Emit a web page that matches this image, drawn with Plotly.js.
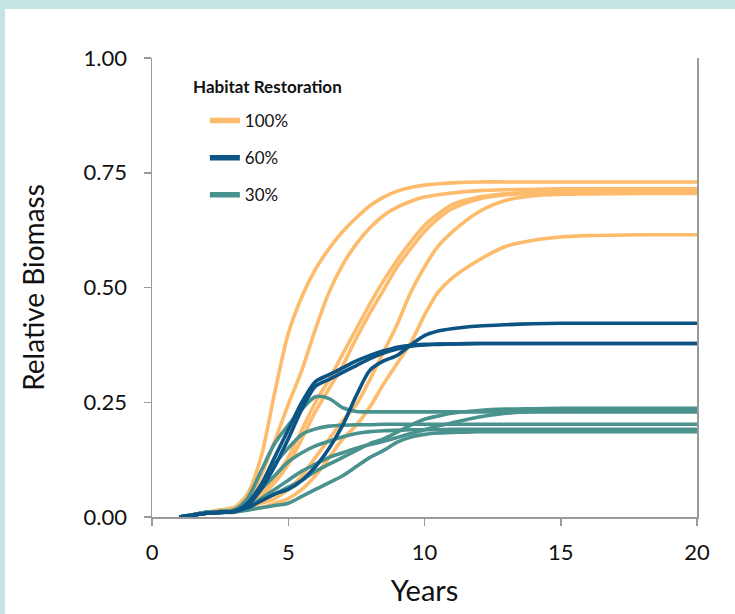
<!DOCTYPE html>
<html>
<head>
<meta charset="utf-8">
<script src="https://cdn.plot.ly/plotly-3.0.1.min.js"></script>
<style>
html,body{margin:0;padding:0;width:735px;height:614px;background:#c6e4e4;overflow:hidden;}
#chart{position:absolute;left:5px;top:9px;width:730px;height:605px;background:#fff;}
</style>
</head>
<body>
<div id="chart"></div>
<script>
// Years sampled for every curve
const years = [1,1.5,2,2.5,3,3.5,4,4.5,5,5.5,6,6.5,7,7.5,8,8.5,9,9.5,10,10.5,11,12,13,14,15,16,18,20];

// 100% habitat restoration
const r100_a = [0,0.005,0.01,0.015,0.02,0.05,0.13,0.27,0.40,0.48,0.54,0.585,0.622,0.652,0.678,0.697,0.71,0.718,0.723,0.726,0.728,0.73,0.73,0.73,0.73,0.73,0.73,0.73];
const r100_b = [0,0.005,0.01,0.015,0.02,0.04,0.09,0.165,0.245,0.32,0.41,0.49,0.55,0.595,0.63,0.657,0.675,0.688,0.697,0.702,0.706,0.711,0.713,0.714,0.715,0.715,0.715,0.715];
const r100_c = [0,0.005,0.01,0.015,0.02,0.03,0.05,0.085,0.13,0.19,0.25,0.30,0.355,0.41,0.465,0.515,0.56,0.60,0.635,0.66,0.68,0.697,0.704,0.707,0.709,0.71,0.71,0.71];
const r100_d = [0,0.005,0.01,0.012,0.018,0.025,0.045,0.075,0.115,0.17,0.23,0.28,0.33,0.39,0.445,0.495,0.545,0.585,0.622,0.65,0.671,0.693,0.702,0.705,0.706,0.707,0.707,0.707];
const r100_e = [0,0.005,0.01,0.012,0.015,0.02,0.03,0.04,0.06,0.09,0.13,0.17,0.21,0.245,0.30,0.36,0.42,0.49,0.545,0.59,0.62,0.665,0.69,0.70,0.703,0.704,0.705,0.705];
const r100_f = [0,0.005,0.01,0.012,0.015,0.018,0.02,0.03,0.04,0.06,0.09,0.13,0.17,0.20,0.24,0.29,0.335,0.38,0.44,0.49,0.52,0.56,0.59,0.603,0.61,0.613,0.615,0.615];

// 60% habitat restoration
const r60_a = [0,0.004,0.008,0.01,0.012,0.03,0.07,0.13,0.19,0.25,0.295,0.31,0.325,0.34,0.352,0.362,0.37,0.374,0.376,0.377,0.377,0.378,0.378,0.378,0.378,0.378,0.378,0.378];
const r60_b = [0,0.004,0.008,0.01,0.012,0.025,0.06,0.11,0.17,0.235,0.285,0.30,0.315,0.33,0.345,0.357,0.366,0.372,0.375,0.376,0.377,0.378,0.378,0.378,0.378,0.378,0.378,0.378];
const r60_c = [0,0.004,0.008,0.01,0.012,0.02,0.035,0.05,0.06,0.08,0.11,0.15,0.20,0.265,0.32,0.34,0.352,0.375,0.395,0.405,0.41,0.416,0.419,0.421,0.422,0.422,0.422,0.422];

// 30% habitat restoration
const r30_a = [0,0.005,0.01,0.012,0.015,0.04,0.10,0.16,0.20,0.235,0.262,0.258,0.238,0.23,0.229,0.229,0.229,0.229,0.229,0.229,0.229,0.229,0.229,0.229,0.229,0.229,0.229,0.229];
const r30_b = [0,0.005,0.01,0.012,0.015,0.03,0.07,0.115,0.15,0.18,0.192,0.198,0.20,0.201,0.201,0.202,0.202,0.202,0.202,0.202,0.202,0.202,0.202,0.202,0.202,0.202,0.202,0.202];
const r30_c = [0,0.005,0.01,0.012,0.015,0.03,0.06,0.09,0.12,0.14,0.155,0.165,0.175,0.182,0.186,0.188,0.189,0.19,0.19,0.19,0.191,0.191,0.191,0.191,0.191,0.191,0.191,0.191];
const r30_d = [0,0.005,0.01,0.01,0.012,0.02,0.035,0.05,0.065,0.08,0.10,0.115,0.13,0.145,0.16,0.17,0.185,0.20,0.213,0.22,0.226,0.232,0.235,0.236,0.237,0.237,0.237,0.237];
const r30_e = [0,0.005,0.008,0.01,0.012,0.02,0.04,0.06,0.08,0.10,0.115,0.13,0.14,0.15,0.158,0.165,0.173,0.182,0.19,0.198,0.205,0.218,0.226,0.23,0.232,0.233,0.233,0.233];
const r30_f = [0,0.004,0.008,0.01,0.01,0.015,0.02,0.025,0.03,0.045,0.06,0.075,0.09,0.11,0.13,0.145,0.163,0.174,0.18,0.183,0.184,0.186,0.186,0.186,0.186,0.186,0.186,0.186];

const legendLabels = ["100%", "60%", "30%"];
const xTicks = [0,5,10,15,20];
const yTicks = [0,0.25,0.5,0.75,1];
const yTickText = ["0.00","0.25","0.50","0.75","1.00"];

const colors = {"100%": "#fdbb6b", "60%": "#0c5483", "30%": "#4a928e"};
const groups = [
  {name: "100%", series: [r100_a, r100_b, r100_c, r100_d, r100_e, r100_f]},
  {name: "30%", series: [r30_a, r30_b, r30_c, r30_d, r30_e, r30_f]},
  {name: "60%", series: [r60_a, r60_b, r60_c]}
];

const traces = [];
groups.forEach(g => {
  g.series.forEach(s => {
    traces.push({
      x: years, y: s, type: "scatter", mode: "lines",
      line: {color: colors[g.name], width: 3.6, shape: "spline", smoothing: 0.8},
      showlegend: false, hoverinfo: "skip"
    });
  });
});
legendLabels.forEach((lab, i) => {
  traces.push({
    x: [null], y: [null], type: "scatter", mode: "lines", name: lab,
    legendgroup: "g" + i,
    line: {color: colors[lab], width: 5.5}
  });
});

const font = "Lato, 'Open Sans', sans-serif";
const layout = {
  width: 730, height: 605,
  margin: {l: 147, r: 38, t: 49, b: 97},
  paper_bgcolor: "#ffffff", plot_bgcolor: "#ffffff",
  font: {family: font, color: "#111111"},
  showlegend: true,
  legend: {
    x: 0.097, y: 0.902, xanchor: "left", yanchor: "top",
    font: {size: 17, family: font, color: "#111"},
    bgcolor: "rgba(0,0,0,0)", traceorder: "grouped",
    tracegroupgap: 12, itemwidth: 30
  },
  xaxis: {
    range: [0, 20], tickvals: xTicks, ticktext: xTicks.map(String),
    showgrid: false, zeroline: false, showline: true,
    linecolor: "#9a9a9a", linewidth: 1.5,
    ticks: "outside", ticklen: 7, tickcolor: "#9a9a9a", tickwidth: 1.5,
    tickfont: {size: 22, family: font, color: "#111"},
    ticklabelstandoff: 8,
    title: {text: "Years", font: {size: 29, family: font, color: "#111"}, standoff: 17}
  },
  yaxis: {
    range: [0, 1], tickvals: yTicks, ticktext: yTickText,
    showgrid: false, zeroline: false, showline: true, mirror: true,
    linecolor: "#9a9a9a", linewidth: 1.5,
    ticks: "outside", ticklen: 7, tickcolor: "#9a9a9a", tickwidth: 1.5,
    tickfont: {size: 22, family: font, color: "#111"},
    ticklabelstandoff: 12,
    title: {text: "Relative Biomass", font: {size: 28, family: font, color: "#111"}, standoff: 31}
  },
  annotations: [{
    text: "<b>Habitat Restoration</b>", xref: "paper", yref: "paper",
    x: 0.071, y: 0.937, xanchor: "left", yanchor: "middle", showarrow: false,
    font: {size: 17, family: font, color: "#111"}
  }]
};

Plotly.newPlot("chart", traces, layout, {displayModeBar: false, staticPlot: true});
</script>
</body>
</html>
